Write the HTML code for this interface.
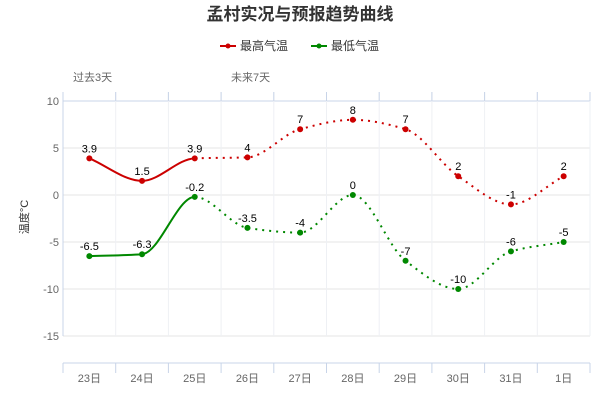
<!DOCTYPE html>
<html><head><meta charset="utf-8"><style>
body{margin:0;background:#fff;}
svg{display:block;font-family:"Liberation Sans","Noto Sans CJK SC",sans-serif;}
</style></head><body>
<svg id="chart" width="600" height="400">
<text x="300" y="20" text-anchor="middle" font-size="17" font-weight="bold" fill="#333">孟村实况与预报趋势曲线</text>
<g>
<g><line x1="220" y1="46" x2="236" y2="46" stroke="#c00" stroke-width="2"/><circle cx="228" cy="46" r="2.5" fill="#c00"/><text x="240" y="50" font-size="12" fill="#333">最高气温</text></g>
<g><line x1="311" y1="46" x2="327" y2="46" stroke="#080" stroke-width="2"/><circle cx="319" cy="46" r="2.5" fill="#080"/><text x="331" y="50" font-size="12" fill="#333">最低气温</text></g>
</g>
<text x="73" y="81" font-size="11" fill="#666">过去3天</text>
<text x="231" y="81" font-size="11" fill="#666">未来7天</text>
<text transform="translate(28,217) rotate(-90)" text-anchor="middle" font-size="11" fill="#333">温度°C</text>
<g id="grid"></g><g id="series"></g>
</svg>
<script>
const categories=["23日","24日","25日","26日","27日","28日","29日","30日","31日","1日"];
const highTemps=[3.9,1.5,3.9,4,7,8,7,2,-1,2];
const lowTemps=[-6.5,-6.3,-0.2,-3.5,-4,0,-7,-10,-6,-5];
const yTicks=[10,5,0,-5,-10,-15];
const pastCount=3;
const NS="http://www.w3.org/2000/svg";
const L=63,R=590,T=92,B=336,AX=363;
const bw=(R-L)/categories.length;
const xs=i=>L+bw*(i+0.5);
const ys=v=>195-v*9.4;
const svg=document.getElementById('chart'),grid=document.getElementById('grid'),ser=document.getElementById('series');
function mk(tag,a,p){const e=document.createElementNS(NS,tag);for(const k in a)e.setAttribute(k,a[k]);(p||svg).appendChild(e);return e;}
yTicks.forEach(v=>{
 const l=mk('line',{x1:L,x2:R,y1:ys(v),y2:ys(v),stroke:v===10?'#c8d4e8':'#e6e6e6'},grid);
 
 
 const t=mk('text',{x:L-4,y:ys(v)+4,'text-anchor':'end','font-size':11,fill:'#666'},grid);t.textContent=v;
 
 
});
for(let k=0;k<=categories.length;k++){
 const x=L+bw*k;
 const g=mk('line',{x1:x,x2:x,y1:T,y2:B,stroke:k===0?'#c8d4e8':'#eef0f4'},grid);
 
 
 mk('line',{x1:x,x2:x,y1:T,y2:ys(10),stroke:'#c8d4e8'},grid);
 const tk=mk('line',{x1:x,x2:x,y1:AX,y2:AX+10,stroke:'#c8d4e8'},grid);
 
 
}
const ax=mk('line',{x1:L,x2:R,y1:AX,y2:AX,stroke:'#c8d4e8'},grid);


categories.forEach((c,i)=>{const t=mk('text',{x:xs(i),y:382,'text-anchor':'middle','font-size':11,fill:'#666'},grid);t.textContent=c;
 
 });
function slopes(pts){
 const n=pts.length,d=[],m=[];
 for(let i=0;i<n-1;i++)d.push((pts[i+1][1]-pts[i][1])/(pts[i+1][0]-pts[i][0]));
 for(let i=0;i<n;i++){
  if(i===0)m.push(d[0]);else if(i===n-1)m.push(d[n-2]);
  else if(d[i-1]*d[i]<=0)m.push(0);
  else m.push(2/(1/d[i-1]+1/d[i]));
 }
 return m;
}
function path(pts,m,a,b){
 let d='M'+pts[a][0]+','+pts[a][1];
 for(let i=a;i<b;i++){
  const p1=pts[i],p2=pts[i+1],h=(p2[0]-p1[0])/3;
  d+=' C'+(p1[0]+h)+','+(p1[1]+m[i]*h)+' '+(p2[0]-h)+','+(p2[1]-m[i+1]*h)+' '+p2[0]+','+p2[1];
 }
 return d;
}
function drawSeries(vals,color,name){
 const pts=vals.map((v,i)=>[xs(i),ys(v)]);
 const m=slopes(pts);
 const s=mk('path',{d:path(pts,m,0,pastCount-1),fill:'none',stroke:color,'stroke-width':2},ser);
 
 
 const f=mk('path',{d:path(pts,m,pastCount-1,pts.length-1),fill:'none',stroke:color,'stroke-width':2,'stroke-dasharray':'2,5'},ser);
 
 
 pts.forEach((p,i)=>{
  const c=mk('circle',{cx:p[0],cy:p[1],r:3,fill:color},ser);
  
  
  const t=mk('text',{x:p[0],y:p[1]-6,'text-anchor':'middle','font-size':11,fill:'#000'},ser);t.textContent=vals[i];
  
  
 });
}
drawSeries(highTemps,'#c00','high-temp');
drawSeries(lowTemps,'#080','low-temp');
</script>
</body></html>
